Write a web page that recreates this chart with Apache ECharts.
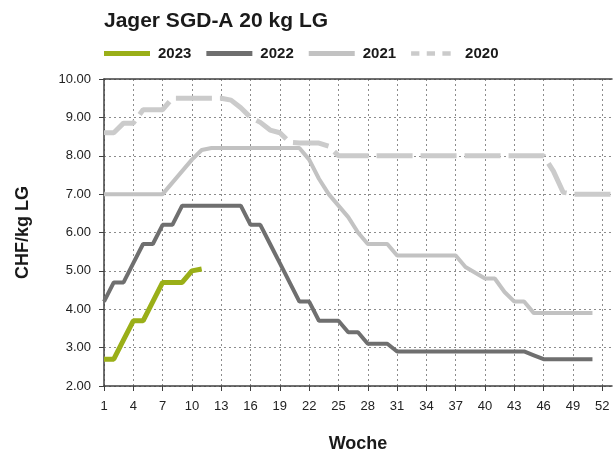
<!DOCTYPE html>
<html><head><meta charset="utf-8">
<script src="https://cdn.jsdelivr.net/npm/echarts@6/dist/echarts.min.js"></script>
<style>html,body{margin:0;padding:0;background:#fff}#c{width:613px;height:459px}</style>
</head><body><div id="c"></div>
<script>
var weeks = [];
for (var i = 1; i <= 53; i++) weeks.push(String(i));
var years = ['2023', '2022', '2021', '2020'];
var v2023 = [2.7,2.7,3.2,3.7,3.7,4.2,4.7,4.7,4.7,5.0,5.05];
var v2022 = [4.2,4.7,4.7,5.2,5.7,5.7,6.2,6.2,6.7,6.7,6.7,6.7,6.7,6.7,6.7,6.2,6.2,5.7,5.2,4.7,
             4.2,4.2,3.7,3.7,3.7,3.4,3.4,3.1,3.1,3.1,2.9,
             2.9,2.9,2.9,2.9,2.9,2.9,2.9,2.9,2.9,2.9,2.9,2.9,2.9,
             2.8,2.7,2.7,2.7,2.7,2.7,2.7];
var v2021 = [7.0,7.0,7.0,7.0,7.0,7.0,7.0,7.3,7.6,7.9,8.15,
             8.2,8.2,8.2,8.2,8.2,8.2,8.2,8.2,8.2,8.2,
             7.9,7.4,7.0,6.7,6.4,6.0,5.7,5.7,5.7,
             5.4,5.4,5.4,5.4,5.4,5.4,5.4,
             5.1,4.95,4.8,4.8,4.45,4.2,4.2,
             3.9,3.9,3.9,3.9,3.9,3.9,3.9];
var v2020 = [8.6,8.6,8.85,8.85,9.2,9.2,9.2,9.5,9.5,9.5,9.5,9.5,9.5,
             9.45,9.25,9.0,8.87,8.67,8.6,8.35,8.33,8.33,8.33,8.25,
             8.0,
             8.0,8.0,8.0,8.0,8.0,8.0,8.0,8.0,8.0,8.0,8.0,8.0,8.0,8.0,8.0,8.0,8.0,8.0,8.0,8.0,8.0,
             7.6,7.05,7.0,7.0,7.0,7.0,7.0];
var yTicks = [2,3,4,5,6,7,8,9,10];
var colors = {'2023':'#9aaf18', '2022':'#6f6f6f', '2021':'#c2c2c2', '2020':'#cbcbcb'};

var chart = echarts.init(document.getElementById('c'), null, {renderer:'canvas'});
var FONT = 'Liberation Sans';
var gridDot = {show:true, lineStyle:{color:'#8c8c8c', type:[2,3], width:1}};
chart.setOption({
  animation:false,
  backgroundColor:'#ffffff',
  title:{text:'Jager SGD-A 20 kg LG', left:104, top:11, padding:0,
    textStyle:{fontFamily:FONT, fontWeight:'bold', fontSize:21, color:'#1a1a1a'}},
  legend:{left:104, top:46, padding:0, itemWidth:46, itemHeight:5, itemGap:15,
    textStyle:{fontFamily:FONT, fontWeight:'bold', fontSize:15, color:'#1a1a1a', padding:[0,0,0,3]},
    data:[
      {name:'2023', icon:'rect'},
      {name:'2022', icon:'rect'},
      {name:'2021', icon:'rect'},
      {name:'2020', icon:'path://M0,0h9v5h-9z M17,0h9v5h-9z M34,0h9v5h-9z M50,0h0v5h0z'}
    ]},
  grid:{left:104, top:79, right:1, bottom:73, containLabel:false},
  xAxis:[{
    type:'category', data:weeks, boundaryGap:false,
    name:'Woche', nameLocation:'middle', nameGap:49,
    nameTextStyle:{fontFamily:FONT, fontWeight:'bold', fontSize:18, color:'#1a1a1a'},
    axisLine:{lineStyle:{color:'#404040', width:1.5}},
    axisTick:{show:true, interval:2, length:5, lineStyle:{color:'#404040'}},
    axisLabel:{interval:2, fontFamily:FONT, fontSize:13, color:'#222', margin:14},
    splitLine:Object.assign({interval:2}, gridDot)
  },{
    type:'category', data:weeks, boundaryGap:false, position:'top',
    axisLine:{show:true, lineStyle:{color:'#404040', width:1.5}},
    axisTick:{show:false}, axisLabel:{show:false}, splitLine:{show:false}
  }],
  yAxis:{
    type:'value', min:yTicks[0], max:yTicks[yTicks.length-1], interval:1,
    name:'CHF/kg LG', nameLocation:'middle', nameGap:72,
    nameTextStyle:{fontFamily:FONT, fontWeight:'bold', fontSize:18, color:'#1a1a1a'},
    axisLine:{show:true, lineStyle:{color:'#404040', width:1.5}},
    axisTick:{show:true, length:5, lineStyle:{color:'#404040'}},
    axisLabel:{fontFamily:FONT, fontSize:13, color:'#222', margin:13,
      formatter:function(v){return v.toFixed(2);}},
    splitLine:gridDot
  },
  series:[
    {name:years[3], type:'line', data:v2020, showSymbol:false, symbol:'none', z:2,
      lineStyle:{color:colors['2020'], width:5, type:[36,8]}, itemStyle:{color:colors['2020']}},
    {name:years[2], type:'line', data:v2021, showSymbol:false, symbol:'none', z:3,
      lineStyle:{color:colors['2021'], width:4}, itemStyle:{color:colors['2021']}},
    {name:years[1], type:'line', data:v2022, showSymbol:false, symbol:'none', z:4,
      lineStyle:{color:colors['2022'], width:4}, itemStyle:{color:colors['2022']}},
    {name:years[0], type:'line', data:v2023, showSymbol:false, symbol:'none', z:5,
      lineStyle:{color:colors['2023'], width:5}, itemStyle:{color:colors['2023']}}
  ]
});
</script></body></html>
